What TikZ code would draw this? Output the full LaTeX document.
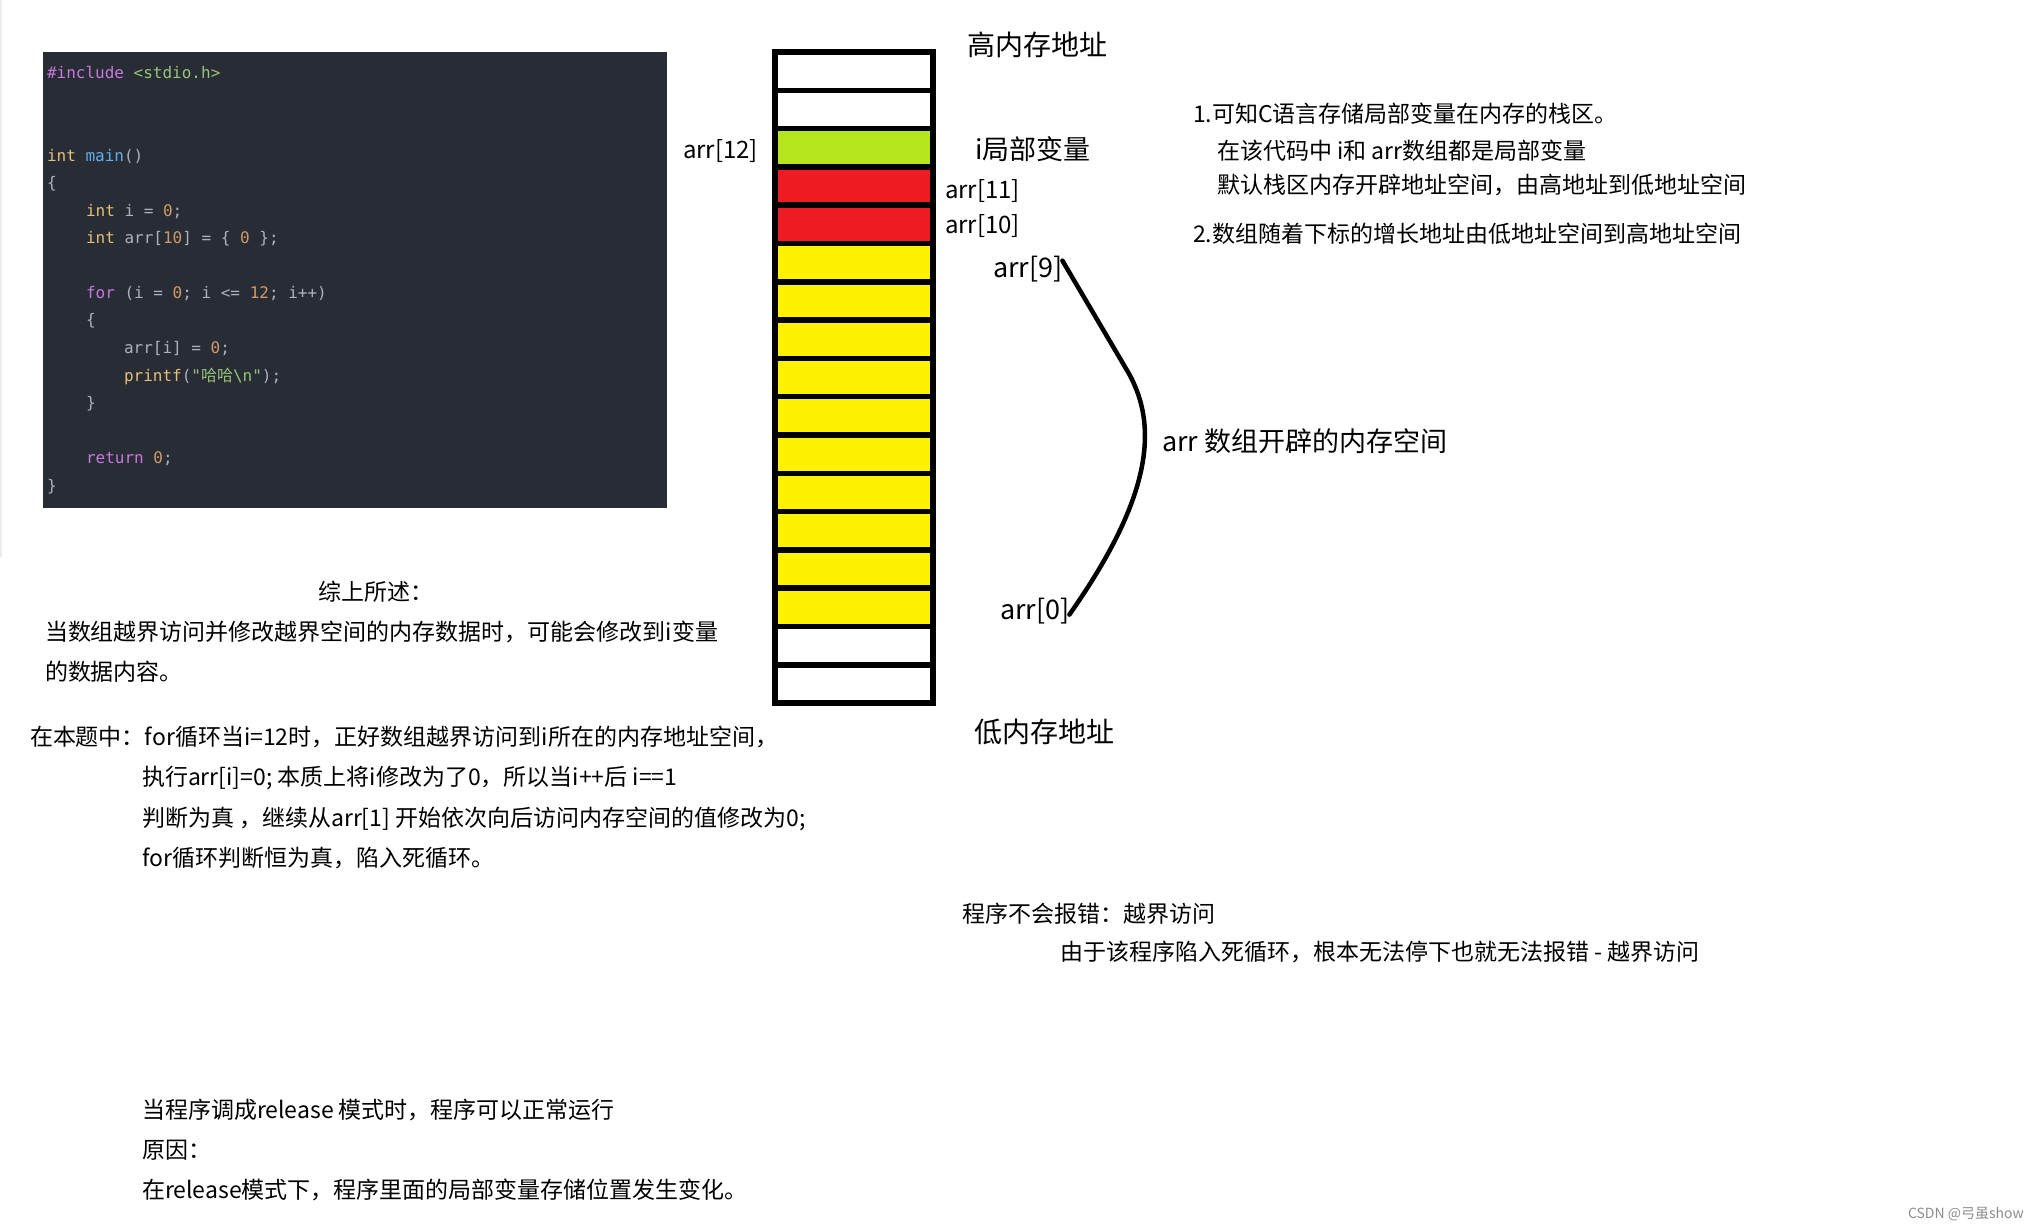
\documentclass[tikz,border=0pt]{standalone}
\usepackage{fontspec}
\setmainfont{Noto Sans CJK SC}
\newfontfamily\cjk{Noto Sans CJK SC}
\newfontfamily\codefont{DejaVu Sans Mono}
\definecolor{cbg}{HTML}{282C34}
\definecolor{cpl}{HTML}{ABB2BF}
\definecolor{ckw}{HTML}{C678DD}
\definecolor{cty}{HTML}{E5C07B}
\definecolor{cfn}{HTML}{61AFEF}
\definecolor{cnum}{HTML}{D19A66}
\definecolor{cstr}{HTML}{98C379}
\definecolor{mgreen}{HTML}{B5E61D}
\definecolor{mred}{HTML}{ED1C24}
\definecolor{myellow}{HTML}{FFF200}
\tikzset{
  txt/.style={anchor=base west, inner sep=0pt, outer sep=0pt, font=\fontsize{23}{28}\selectfont},
  memlbl/.style={anchor=base west, inner sep=0pt, outer sep=0pt, font=\fontsize{27}{32}\selectfont},
  smlbl/.style={anchor=base west, inner sep=0pt, outer sep=0pt, font=\fontsize{24}{28}\selectfont},
  codeln/.style={anchor=base west, inner sep=0pt, outer sep=0pt, text=cpl, font=\codefont\fontsize{16}{20}\selectfont},
  cellfill/.style={anchor=north west, minimum width=158pt, minimum height=38.3pt, inner sep=0pt, outer sep=0pt},
  cellborder/.style={draw=black, line width=5.5pt},
}
\begin{document}
\begin{tikzpicture}[x=1pt,y=-1pt]
\useasboundingbox (0,0) rectangle (2038,1231);
\fill[white] (0,0) rectangle (2038,1231);
\draw[black!8, line width=2pt] (1,0) -- (1,557);

% code box
\node (code) [fill=cbg, anchor=north west, minimum width=624pt, minimum height=456pt, inner sep=0pt, outer sep=0pt] at (43,52) {};
\node (k1) [codeln] at (47,78) {\textcolor{ckw}{\#include} \textcolor{cstr}{<stdio.h>}};
\node (k2) [codeln] at (47,161) {\textcolor{cty}{int} \textcolor{cfn}{main}()};
\node (k3) [codeln] at (47,188) {\{};
\node (k4) [codeln] at (86,216) {\textcolor{cty}{int} i = \textcolor{cnum}{0};};
\node (k5) [codeln] at (86,243) {\textcolor{cty}{int} arr[\textcolor{cnum}{10}] = \{ \textcolor{cnum}{0} \};};
\node (k6) [codeln] at (86,298) {\textcolor{ckw}{for} (i = \textcolor{cnum}{0}; i <= \textcolor{cnum}{12}; i++)};
\node (k7) [codeln] at (86,325) {\{};
\node (k8) [codeln] at (124,353) {arr[i] = \textcolor{cnum}{0};};
\node (k9) [codeln] at (124,381) {\textcolor{cty}{printf}(\textcolor{cstr}{"{\cjk 哈哈}\textbackslash n"});};
\node (k10) [codeln] at (86,408) {\}};
\node (k11) [codeln] at (86,463) {\textcolor{ckw}{return} \textcolor{cnum}{0};};
\node (k12) [codeln] at (47,491) {\}};

% memory stack
\foreach \k/\c in {1/white,2/white,3/mgreen,4/mred,5/mred,6/myellow,7/myellow,8/myellow,9/myellow,10/myellow,11/myellow,12/myellow,13/myellow,14/myellow,15/myellow,16/white,17/white}{
  \node (c\k) [cellfill, fill=\c] at (775,{52+(\k-1)*38.3}) {};
}
\foreach \k in {1,...,17}{
  \draw[cellborder] (c\k.north west) rectangle (c\k.south east);
}

% memory labels
\node (hi) [anchor=base west, inner sep=0pt, font=\fontsize{28}{32}\selectfont] at (967,56) {高内存地址};
\node (lo) [anchor=base west, inner sep=0pt, font=\fontsize{28}{32}\selectfont] at (974,742) {低内存地址};
\node (li) [memlbl] at (975,159) {i局部变量};
\node (l12) [smlbl] at (683,158) {arr[12]};
\node (l11) [smlbl] at (945,198) {arr[11]};
\node (l10) [smlbl] at (945,233) {arr[10]};
\node (l9) [memlbl] at (993,277) {arr[9]};
\node (l0) [memlbl] at (1000,619) {arr[0]};
\node (sp) [memlbl] at (1162,451) {arr 数组开辟的内存空间};
\coordinate (bend) at (1128,372);
\draw[line width=4.5pt, line cap=round, line join=round] ([yshift=8pt]l9.east) -- (bend) .. controls (1160,428) and (1150,500) .. ([yshift=-4pt]l0.east);

% right notes
\node (r1) [txt] at (1193,122) {1.可知C语言存储局部变量在内存的栈区。};
\node (r2) [txt] at (1217,159) {在该代码中 i和 arr数组都是局部变量};
\node (r3) [txt] at (1217,193) {默认栈区内存开辟地址空间，由高地址到低地址空间};
\node (r4) [txt] at (1193,242) {2.数组随着下标的增长地址由低地址空间到高地址空间};

% left notes
\node (s0) [txt] at (318,600) {综上所述：};
\node (s1) [txt] at (45,640) {当数组越界访问并修改越界空间的内存数据时，可能会修改到i变量};
\node (s2) [txt] at (45,680) {的数据内容。};
\node (t1) [txt] at (30,745) {在本题中：for循环当i=12时，正好数组越界访问到i所在的内存地址空间，};
\node (t2) [txt] at (142,785) {执行arr[i]=0; 本质上将i修改为了0，所以当i++后 i==1};
\node (t3) [txt] at (142,826) {判断为真 ，继续从arr[1] 开始依次向后访问内存空间的值修改为0;};
\node (t4) [txt] at (142,866) {for循环判断恒为真，陷入死循环。};

\node (e1) [txt] at (962,922) {程序不会报错：越界访问};
\node (e2) [txt] at (1060,960) {由于该程序陷入死循环，根本无法停下也就无法报错 - 越界访问};

\node (m1) [txt] at (142,1118) {当程序调成release 模式时，程序可以正常运行};
\node (m2) [txt] at (142,1158) {原因：};
\node (m3) [txt] at (142,1198) {在release模式下，程序里面的局部变量存储位置发生变化。};

\node (wm) [anchor=base east, inner sep=0pt, text=black!45, font=\fontsize{14}{16}\selectfont] at (2024,1218) {CSDN @弓虽show};
\end{tikzpicture}
\end{document}
